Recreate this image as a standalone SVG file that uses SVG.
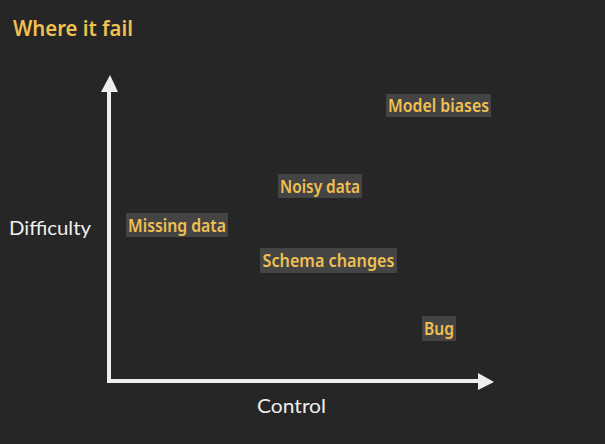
<svg xmlns="http://www.w3.org/2000/svg" width="605" height="444" viewBox="0 0 605 444">
<style>
.lbl{font-family:"Noto Sans","Liberation Sans",Arial,sans-serif;font-size:17px;font-weight:600;fill:#f0c050;text-anchor:middle}
.box{fill:#444444}
.axis{font-family:Lato,"Liberation Sans",sans-serif;font-size:19px;fill:#eeeeee}
.ax{stroke:#eeeeee;stroke-width:4;fill:none}
</style>
<rect width="605" height="444" fill="#262626"/>
<text x="13" y="36" font-family="'Noto Sans','Liberation Sans',Arial,sans-serif" font-size="22" font-weight="600" fill="#f0c050" textLength="120" lengthAdjust="spacingAndGlyphs">Where it fail</text>
<g id="connectors">
<path class="ax" d="M109 90 V381 H480"/>
<polygon points="110,75 101,92 118,92" fill="#eeeeee"/>
<polygon points="494,382 478,373 478,390" fill="#eeeeee"/>
</g>
<g id="model-biases"><rect class="box" x="386" y="94" width="105" height="23"/><text class="lbl" x="438.5" y="112" textLength="101" lengthAdjust="spacingAndGlyphs">Model biases</text></g>
<g id="noisy-data"><rect class="box" x="278" y="174" width="84" height="24"/><text class="lbl" x="320" y="192.5" textLength="80" lengthAdjust="spacingAndGlyphs">Noisy data</text></g>
<g id="missing-data"><rect class="box" x="126" y="213" width="102" height="24"/><text class="lbl" x="177" y="231.5" textLength="98" lengthAdjust="spacingAndGlyphs">Missing data</text></g>
<g id="schema-changes"><rect class="box" x="260" y="248" width="137" height="25"/><text class="lbl" x="328.5" y="267" textLength="132" lengthAdjust="spacingAndGlyphs">Schema changes</text></g>
<g id="bug"><rect class="box" x="422" y="316" width="34" height="25"/><text class="lbl" x="439" y="335" textLength="30" lengthAdjust="spacingAndGlyphs">Bug</text></g>
<text class="axis" x="9" y="235" textLength="82" lengthAdjust="spacingAndGlyphs">Difficulty</text>
<text class="axis" x="257" y="413" textLength="69" lengthAdjust="spacingAndGlyphs">Control</text>
</svg>
